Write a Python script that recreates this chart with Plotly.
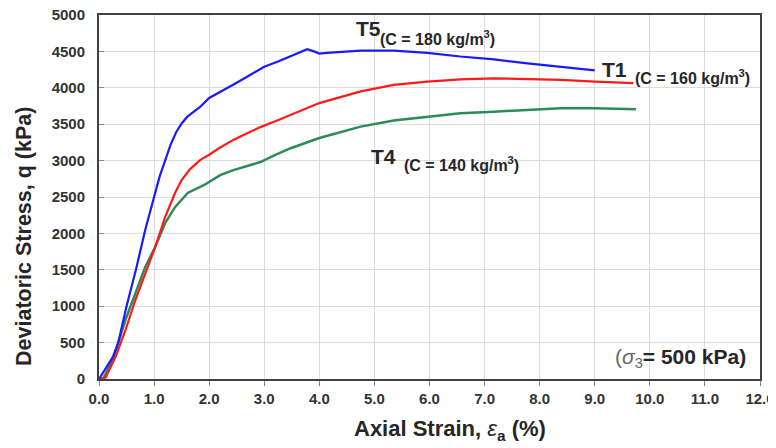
import plotly.graph_objects as go

# T5 (C = 180 kg/m3) - blue
t5_strain = [0, 0.1, 0.25, 0.35, 0.5, 0.67, 0.84, 1.0, 1.1, 1.2, 1.3, 1.4, 1.5, 1.6, 1.84, 2.0,
             2.25, 2.5, 2.75, 3.0, 3.25, 3.5, 3.65, 3.78, 3.9, 4.0, 4.14, 4.75, 5.35, 5.96,
             6.56, 7.17, 7.78, 8.38, 9.0]
t5_stress = [0, 120, 300, 500, 1000, 1500, 2050, 2500, 2780, 3000, 3220, 3390, 3510, 3600, 3740, 3860,
             3960, 4070, 4180, 4290, 4360, 4440, 4490, 4530, 4500, 4470, 4480, 4510, 4510, 4480,
             4430, 4390, 4335, 4290, 4240]

# T1 (C = 160 kg/m3) - red
t1_strain = [0, 0.12, 0.3, 0.48, 0.66, 0.84, 1.02, 1.2, 1.38, 1.5, 1.65, 1.84, 2.0, 2.2, 2.44,
             2.7, 2.93, 3.2, 3.48, 4.0, 4.75, 5.35, 5.96, 6.56, 7.17, 7.78, 8.38, 9.0, 9.7]
t1_stress = [0, 20, 300, 670, 1085, 1456, 1813, 2225, 2555, 2733, 2880, 3010, 3080, 3180, 3284,
             3380, 3460, 3540, 3627, 3790, 3950, 4040, 4085, 4117, 4130, 4117, 4110, 4085, 4063]

# T4 (C = 140 kg/m3) - green
t4_strain = [0.07, 0.25, 0.48, 0.66, 0.84, 1.02, 1.2, 1.38, 1.61, 1.91, 2.2, 2.44,
             2.7, 2.93, 3.2, 3.48, 4.0, 4.75, 5.35, 5.96, 6.56, 7.17, 7.78, 8.38, 9.0, 9.75]
t4_stress = [0, 260, 810, 1180, 1540, 1813, 2140, 2360, 2555, 2665, 2800, 2870,
             2930, 2980, 3080, 3170, 3310, 3467, 3550, 3604, 3650, 3672, 3695, 3718, 3718, 3704]

x_ticks = [i * 1.0 for i in range(13)]
x_tick_labels = [f"{v:.1f}" for v in x_ticks]
y_ticks = list(range(0, 5001, 500))

FONT = "Arial, 'Liberation Sans', sans-serif"
TXT = "#262626"

fig = go.Figure()
fig.add_trace(go.Scatter(x=t4_strain, y=t4_stress, mode="lines",
                         line=dict(color="#2e8b57", width=2.5), name="T4"))
fig.add_trace(go.Scatter(x=t1_strain, y=t1_stress, mode="lines",
                         line=dict(color="#ff1a1a", width=2.2), name="T1"))
fig.add_trace(go.Scatter(x=t5_strain, y=t5_stress, mode="lines",
                         line=dict(color="#1a1aff", width=2.2), name="T5"))

ann = []
def label(x, y, text, size):
    ann.append(dict(x=x, y=y, xref="x", yref="y", text=text, showarrow=False,
                    xanchor="left", yanchor="middle",
                    font=dict(family=FONT, size=size, color=TXT, weight="bold")))

label(4.63, 4815, "T5", 21)
label(5.06, 4690, "(C = 180 kg/m<sup>3</sup>)", 16)
label(9.1, 4250, "T1", 21)
label(9.7, 4150, "(C = 160 kg/m<sup>3</sup>)", 16)
label(4.9, 3060, "T4", 21)
label(5.5, 2960, "(C = 140 kg/m<sup>3</sup>)", 16)
ann.append(dict(x=9.33, y=290, xref="x", yref="y", showarrow=False, xanchor="left", yanchor="middle",
                text="<span style='font-weight:normal;color:#666'>(<i>σ</i><sub>3</sub></span>= 500 kPa)",
                font=dict(family=FONT, size=21, color=TXT, weight="bold")))

ann.append(dict(x=0.531, y=-0.140, xref="paper", yref="paper", showarrow=False,
                xanchor="center", yanchor="middle",
                text="Axial Strain, <span style='font-weight:normal'><i>ε</i></span><sub>a</sub> (%)",
                font=dict(family=FONT, size=22, color=TXT, weight="bold")))
ann.append(dict(x=-0.1135, y=0.393, xref="paper", yref="paper", showarrow=False,
                xanchor="center", yanchor="middle", textangle=-90,
                text="Deviatoric Stress, q (kPa)",
                font=dict(family=FONT, size=21.5, color=TXT, weight="bold")))

# page body has an 8px margin, so the figure is sized to fit the remaining window
fig.update_layout(
    width=768, height=440,
    margin=dict(l=91, r=16, t=7, b=69, autoexpand=False),
    paper_bgcolor="white", plot_bgcolor="white",
    showlegend=False,
    annotations=ann,
)
fig.update_xaxes(range=[0, 12], tickvals=x_ticks, ticktext=x_tick_labels,
                 showgrid=True, gridcolor="#dcdcdc", gridwidth=1,
                 showline=True, linecolor="#404040", linewidth=2, mirror=True,
                 ticks="outside", ticklen=5, tickcolor="#888", automargin=False,
                 ticklabeloverflow="allow",
                 tickfont=dict(family=FONT, size=15, color="#333", weight="bold"),
                 zeroline=False)
fig.update_yaxes(range=[0, 5000], tickvals=y_ticks,
                 showgrid=True, gridcolor="#dcdcdc", gridwidth=1,
                 showline=True, linecolor="#404040", linewidth=2, mirror=True,
                 ticks="inside", ticklen=5, tickcolor="#888", automargin=False,
                 ticklabelstandoff=9, ticklabeloverflow="allow",
                 tickfont=dict(family=FONT, size=15, color="#333", weight="bold"),
                 zeroline=False)

fig.write_html("out.html")
